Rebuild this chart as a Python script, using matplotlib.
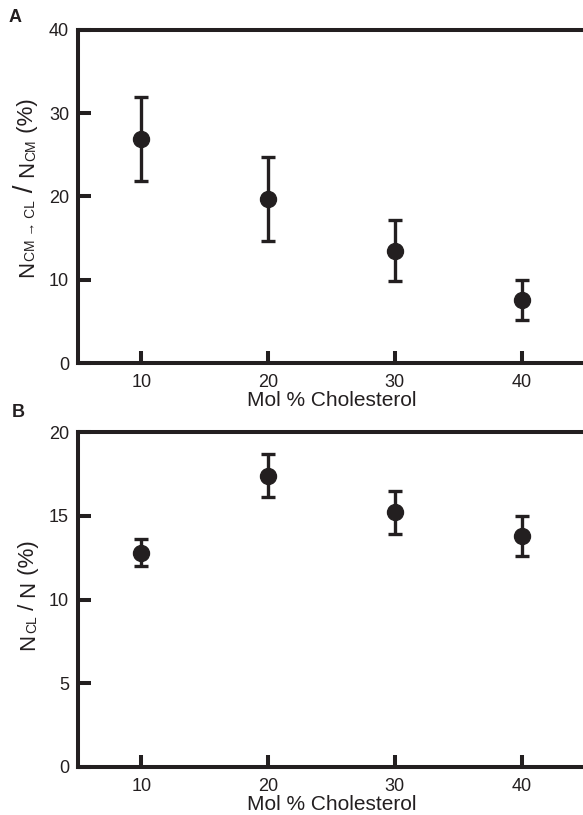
import numpy as np
import matplotlib
matplotlib.use('Agg')
import matplotlib.pyplot as plt

#Mol % cholesterol
chol = [10, 20, 30, 40]
#Panel A: fraction of CM lipids moving to CL (%)
frac_cm_cl = [26.9, 19.7, 13.5, 7.6]
frac_cm_cl_err = [5.0, 5.0, 3.7, 2.4]
#Panel B: fraction of lipids in CL (%)
frac_cl = [12.8, 17.4, 15.2, 13.8]
frac_cl_err = [0.8, 1.3, 1.3, 1.2]

ink = '#231f20'
plt.rcParams['font.family'] = ['Liberation Sans', 'DejaVu Sans']
plt.rcParams['text.color'] = ink

#figure size in px
W, H = 583, 815

def style_ax(ax, ymax, ystep):
    ax.set_xlim(5, 45)
    ax.set_ylim(0, ymax)
    ax.set_xticks(chol)
    ax.set_yticks(np.arange(0, ymax + 1, ystep))
    for s in ['left', 'bottom', 'top']:
        ax.spines[s].set_linewidth(2.9)
        ax.spines[s].set_color(ink)
    ax.spines['right'].set_visible(False)
    ax.tick_params(direction='in', length=9, width=2.9, color=ink,
                   labelcolor=ink, labelsize=13)
    ax.tick_params(axis='x', pad=8)
    ax.tick_params(axis='y', pad=6.5)
    ax.set_xlabel('Mol % Cholesterol', fontsize=15, labelpad=0, color=ink)

def plot_panel(ax, y, yerr):
    ax.errorbar(chol, y, yerr=yerr, fmt='o', color=ink, ms=11.5,
                elinewidth=2.4, capsize=4.8, capthick=2.4, clip_on=False)

#Rotated y label built from pieces of different sizes (subscripts, big slash)
#pieces: (text, fontsize, baseline shift in px)
def stacked_ylabel(f, xbase, ycenter, pieces):
    r = f.canvas.get_renderer()
    texts = []
    total = 0.0
    for s, size, dx in pieces:
        t = f.text((xbase + dx) / W, 0, s, fontsize=size, rotation=90,
                   rotation_mode='anchor', ha='left', va='baseline', color=ink)
        texts.append((t, total, dx))
        total += t.get_window_extent(renderer=r).height
    #stack upward from the bottom, centred on ycenter (px from top)
    ybottom = ycenter + total / 2.0
    for t, yy, dx in texts:
        t.set_position(((xbase + dx) / W, 1 - (ybottom - yy) / H))
    return texts

f = plt.figure(figsize=(5.83, 8.15), dpi=100)
axa = f.add_axes([0.1338, 0.5546, 0.8696, 0.4086])
axb = f.add_axes([0.1338, 0.0589, 0.8696, 0.4110])

plot_panel(axa, frac_cm_cl, frac_cm_cl_err)
style_ax(axa, 40, 10)

plot_panel(axb, frac_cl, frac_cl_err)
style_ax(axb, 20, 5)

f.canvas.draw()
stacked_ylabel(f, 33, 188, [('N', 16, 0), ('CM \u2192 CL', 10, 2), (' / ', 20, 0),
                            ('N', 16, 0), ('CM', 10, 2), (' (%)', 16, 0)])
stacked_ylabel(f, 34, 595, [('N', 16, 0), ('CL', 10, 2), (' / ', 16, 0),
                            ('N', 16, 0), (' (%)', 16, 0)])

f.text(15/W, 1 - 18/H, 'A', fontsize=13, fontweight='bold', ha='center', va='center')
f.text(18/W, 1 - 413/H, 'B', fontsize=13, fontweight='bold', ha='center', va='center')

f.savefig('out.png', dpi=100)
